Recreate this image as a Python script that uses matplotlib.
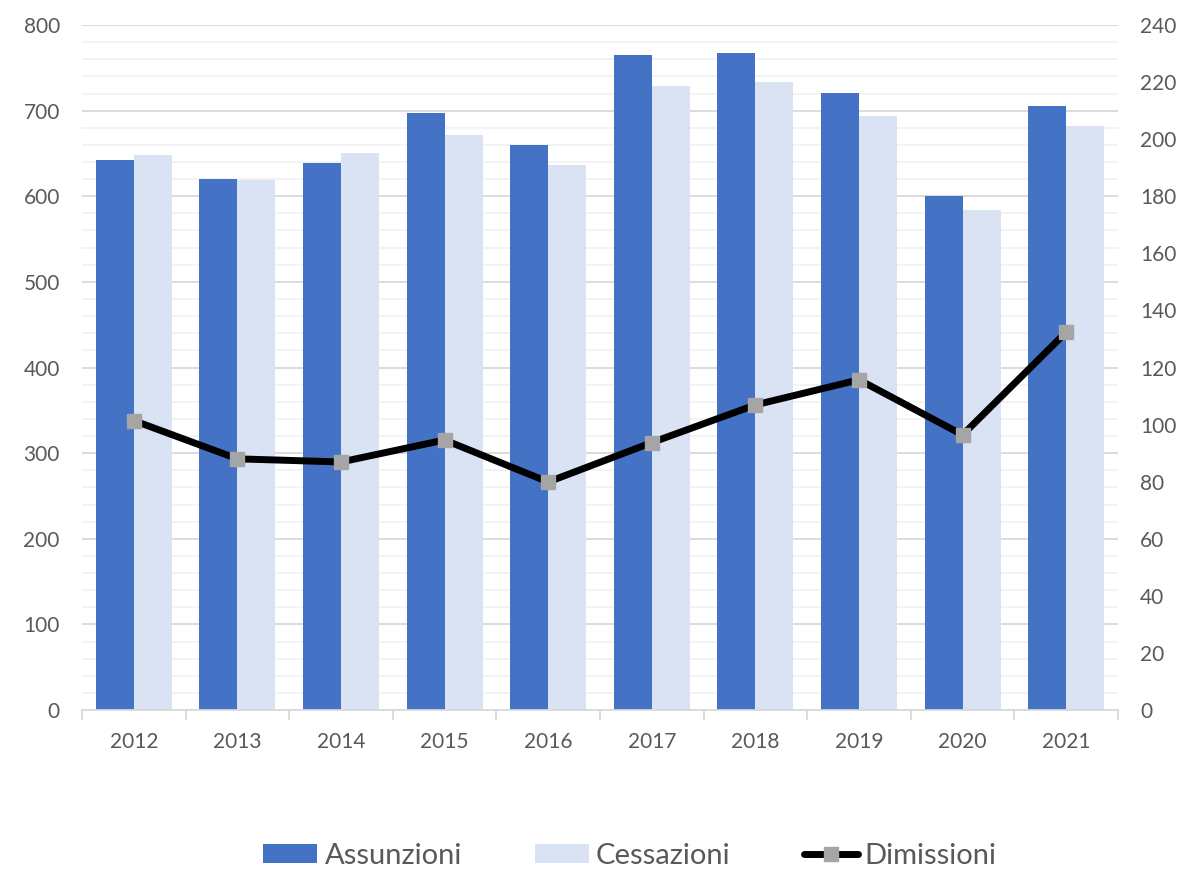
import matplotlib
matplotlib.use("Agg")
import matplotlib.pyplot as plt
import numpy as np
from matplotlib.ticker import MultipleLocator

years = ["2012", "2013", "2014", "2015", "2016", "2017", "2018", "2019", "2020", "2021"]
assunzioni = [642, 620, 639, 697, 660, 765, 767, 721, 600, 705]
cessazioni = [648, 619, 650, 672, 637, 729, 733, 694, 584, 682]
dimissioni = [101.4, 88.0, 86.9, 94.6, 79.9, 93.7, 106.9, 115.7, 96.4, 132.4]

plt.rcParams['font.family'] = ['Lato', 'DejaVu Sans']
txt = '#595959'

fig = plt.figure(figsize=(11.99, 8.69), dpi=100)
ax = fig.add_axes([82/1199, 1-710/869, (1118-82)/1199, (710-25)/869])
ax2 = ax.twinx()

x = np.arange(len(years))
w = 0.367
ax.bar(x - w/2, assunzioni, w, color='#4472C4', label='Assunzioni', zorder=2)
ax.bar(x + w/2, cessazioni, w, color='#DAE3F3', label='Cessazioni', zorder=2)
ax2.plot(x, dimissioni, color='black', lw=5, marker='s', markersize=9.5,
         markerfacecolor='#A5A5A5', markeredgecolor='#A5A5A5', label='Dimissioni',
         solid_capstyle='round', zorder=3)

ax.set_xlim(-0.5, len(years) - 0.5)
ax.set_ylim(0, 800)
ax2.set_ylim(0, 240)
ax.yaxis.set_major_locator(MultipleLocator(100))
ax.yaxis.set_minor_locator(MultipleLocator(20))
ax2.yaxis.set_major_locator(MultipleLocator(20))

ax.grid(axis='y', which='major', color='#D9D9D9', lw=1.3, zorder=0)
ax.grid(axis='y', which='minor', color='#F2F2F2', lw=1.3, zorder=0)
ax.set_axisbelow(True)

ax.set_xticks(x)
ax.set_xticklabels(years)
ax.set_xticks(np.arange(-0.5, len(years), 1), minor=True)
ax.tick_params(axis='x', which='major', length=0, labelsize=15, colors=txt, pad=16)
ax.tick_params(axis='x', which='minor', length=7, color='#D9D9D9', width=1.3)
ax.tick_params(axis='y', which='both', length=0, labelsize=15, colors=txt, pad=16)
ax2.tick_params(axis='y', which='both', length=0, labelsize=15, colors=txt, pad=16)

for a in (ax, ax2):
    for s in ('top', 'left', 'right', 'bottom'):
        a.spines[s].set_visible(False)
ax.spines['bottom'].set_visible(True)
ax.spines['bottom'].set_color('#D9D9D9')
ax.spines['bottom'].set_linewidth(1.3)

h1, l1 = ax.get_legend_handles_labels()
h2, l2 = ax2.get_legend_handles_labels()
leg = fig.legend(h1 + h2, l1 + l2, loc='center', bbox_to_anchor=(630/1199, 1-856/869),
                 ncol=3, frameon=False, fontsize=21, handlelength=1.85, handleheight=0.6,
                 handletextpad=0.25, columnspacing=2.5)
for t in leg.get_texts():
    t.set_color(txt)

fig.savefig('out.png', dpi=100)
